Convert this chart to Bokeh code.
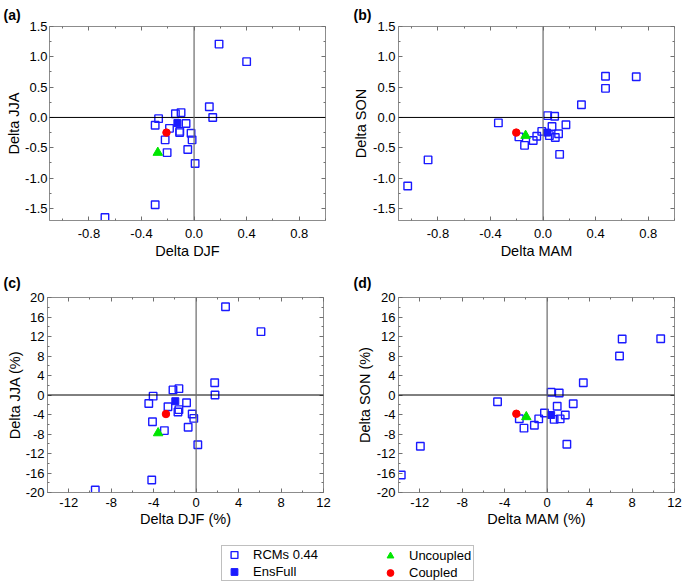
from bokeh.plotting import figure
from bokeh.models import (LinearAxis, FixedTicker, Span, Legend, LegendItem, Range1d,
                          NumeralTickFormatter, CustomJSTickFormatter, ColumnDataSource, Title)
from bokeh.layouts import column, row
from bokeh.embed import file_html
from bokeh.resources import INLINE

FONT = "Liberation Sans"

# ---------------- data ----------------
# panel (a): DJF vs JJA (absolute)
a_djf = [0.19, 0.40, 0.116, 0.142, -0.142, -0.099, -0.27, -0.296, -0.187, -0.109,
         -0.061, -0.023, -0.015, -0.22, -0.205, -0.048, 0.008, -0.296, -0.678, -0.11]
a_jja = [1.21, 0.92, 0.176, 0.0, 0.06, 0.08, -0.02, -0.13, -0.18, -0.23,
         -0.10, -0.26, -0.37, -0.37, -0.58, -0.53, -0.76, -1.44, -1.65, -0.25]
a_ens = [-0.127, -0.093]
a_unc = [-0.276, -0.58]
a_cpl = [-0.21, -0.25]

# panel (b): MAM vs SON (absolute)
b_mam = [-0.875, -1.03, -0.34, -0.184, -0.141, -0.075, -0.048, -0.01, 0.035, 0.088,
         0.068, 0.048, 0.093, 0.118, 0.174, 0.126, 0.292, 0.475, 0.475, 0.709]
b_son = [-0.70, -1.13, -0.09, -0.32, -0.46, -0.38, -0.31, -0.23, 0.03, 0.02,
         -0.15, -0.30, -0.33, -0.27, -0.12, -0.61, 0.21, 0.68, 0.48, 0.67]
b_ens = [0.03, -0.25]
b_unc = [-0.133, -0.30]
b_cpl = [-0.204, -0.25]

# panel (c): DJF vs JJA (%)
c_djf = [2.77, 6.11, 1.75, 1.78, -2.18, -1.62, -4.05, -4.46, -2.65, -1.62,
         -1.71, -0.9, -0.37, -0.22, -4.11, -2.99, -0.75, 0.16, -4.18, -9.5]
c_jja = [18.1, 13.0, 2.5, 0.0, 1.05, 1.3, -0.24, -1.75, -2.4, -3.0,
         -3.5, -1.6, -3.9, -4.8, -5.5, -7.3, -6.6, -10.2, -17.45, -19.5]
c_ens = [-1.96, -1.27]
c_unc = [-3.58, -7.8]
c_cpl = [-2.84, -3.9]

# panel (d): MAM vs SON (%)
d_mam = [-13.74, -11.94, -4.67, -2.62, -2.18, -1.2, -0.79, -0.25, 0.38, 1.14,
         0.95, 0.66, 1.23, 1.71, 2.46, 1.86, 3.41, 6.82, 7.07, 10.7]
d_son = [-16.4, -10.5, -1.37, -4.87, -6.8, -6.2, -4.9, -3.7, 0.55, 0.4,
         -2.3, -5.0, -4.9, -4.1, -1.8, -10.1, 2.5, 8.0, 11.5, 11.55]
d_ens = [0.38, -4.1]
d_unc = [-1.96, -4.5]
d_cpl = [-2.9, -3.85]

abs_xticks = [-0.8, -0.4, 0.0, 0.4, 0.8]
abs_xminor = [-1.0, -0.6, -0.2, 0.2, 0.6, 1.0]
abs_yticks = [-1.5, -1.0, -0.5, 0.0, 0.5, 1.0, 1.5]
abs_yminor = [-1.25, -0.75, -0.25, 0.25, 0.75, 1.25]
pct_xticks = [-12, -8, -4, 0, 4, 8, 12]
pct_xminor = [-14, -10, -6, -2, 2, 6, 10]
pct_yticks = [-20, -16, -12, -8, -4, 0, 4, 8, 12, 16, 20]
pct_yminor = [-18, -14, -10, -6, -2, 2, 6, 10, 14, 18]

legend_labels = ["RCMs 0.44", "EnsFull", "Uncoupled", "Coupled"]

BLUE = "#1a1aff"
RED = "#ff0000"
GREEN = "#00e600"
FRAME = "#8c8c8c"
TICK = "#707070"


def style_axis(ax, fmt, label):
    ax.formatter = NumeralTickFormatter(format=fmt)
    ax.axis_label = label
    ax.axis_line_color = FRAME
    ax.major_tick_in = 4
    ax.major_tick_out = 0
    ax.minor_tick_in = 2
    ax.minor_tick_out = 0
    ax.major_tick_line_color = TICK
    ax.minor_tick_line_color = TICK
    ax.major_label_text_font = FONT
    ax.major_label_text_font_size = "13px"
    ax.major_label_text_color = "black"
    ax.axis_label_text_font = FONT
    ax.axis_label_text_font_size = "14.5px"
    ax.axis_label_text_font_style = "normal"
    ax.axis_label_text_color = "black"


def mirror_axis(ticker):
    ax = LinearAxis(ticker=ticker)
    ax.formatter = CustomJSTickFormatter(code="return '';")
    ax.major_label_text_font_size = "1px"
    ax.major_label_standoff = 0
    ax.axis_line_color = None
    ax.major_tick_in = 4
    ax.major_tick_out = 0
    ax.minor_tick_in = 2
    ax.minor_tick_out = 0
    ax.major_tick_line_color = TICK
    ax.minor_tick_line_color = TICK
    return ax


def make_panel(tag, xr, yr, xt, xm, yt, ym, fmt, xlabel, ylabel,
               rx, ry, ens, unc, cpl, width, height, bl, br, bt, bb, toff, tstd,
               x_std, x_lstd, y_std, y_lstd):
    p = figure(width=width, height=height, x_range=Range1d(*xr), y_range=Range1d(*yr),
               output_backend="svg", toolbar_location=None, title=None,
               min_border_left=bl, min_border_right=br, min_border_top=bt,
               min_border_bottom=bb)
    p.grid.visible = False
    p.outline_line_color = FRAME
    p.background_fill_color = "white"
    p.border_fill_color = "white"
    p.xaxis[0].ticker = FixedTicker(ticks=xt, minor_ticks=xm)
    p.yaxis[0].ticker = FixedTicker(ticks=yt, minor_ticks=ym)
    style_axis(p.xaxis[0], fmt, xlabel)
    style_axis(p.yaxis[0], fmt, ylabel)
    p.xaxis[0].major_label_standoff = x_std
    p.xaxis[0].axis_label_standoff = x_lstd
    p.yaxis[0].major_label_standoff = y_std
    p.yaxis[0].axis_label_standoff = y_lstd
    p.add_layout(mirror_axis(FixedTicker(ticks=xt, minor_ticks=xm)), "above")
    p.add_layout(mirror_axis(FixedTicker(ticks=yt, minor_ticks=ym)), "right")
    t = Title(text=tag, align="left", offset=toff, text_font=FONT, text_font_size="14px",
              text_font_style="bold", standoff=tstd, text_color="black")
    p.add_layout(t, "above")

    p.add_layout(Span(location=0, dimension="width", line_color="black", line_width=1))
    p.add_layout(Span(location=0, dimension="height", line_color="#6a6a6a", line_width=1.2))

    p.scatter(rx, ry, marker="square", size=7.5, fill_color=None, line_color=BLUE, line_width=1.4)
    p.scatter([ens[0]], [ens[1]], marker="square", size=7, fill_color=BLUE, line_color=BLUE)
    p.scatter([unc[0]], [unc[1]], marker="triangle", size=9.5, fill_color=GREEN, line_color=GREEN)
    p.scatter([cpl[0]], [cpl[1]], marker="circle", size=7.5, fill_color=RED, line_color=RED)
    return p


pa = make_panel("(a)", (-1.1, 1.0), (-1.7, 1.5), abs_xticks, abs_xminor, abs_yticks, abs_yminor,
                "0.0", "Delta DJF", "Delta JJA", a_djf, a_jja, a_ens, a_unc, a_cpl,
                342, 266, 49, 17, 26, 46, -46, 8, 8, 2, 2, 0)
pb = make_panel("(b)", (-1.1, 1.0), (-1.7, 1.5), abs_xticks, abs_xminor, abs_yticks, abs_yminor,
                "0.0", "Delta MAM", "Delta SON", b_mam, b_son, b_ens, b_unc, b_cpl,
                343, 266, 56, 11, 26, 46, -45, 8, 8, 2, 3, 1)
pc = make_panel("(c)", (-14, 12), (-20, 20), pct_xticks, pct_xminor, pct_yticks, pct_yminor,
                "0", "Delta DJF (%)", "Delta JJA (%)", c_djf, c_jja, c_ens, c_unc, c_cpl,
                342, 274, 47, 19, 31, 48, -44, 13, 5, 1, 3, 0)
pd_ = make_panel("(d)", (-14, 12), (-20, 20), pct_xticks, pct_xminor, pct_yticks, pct_yminor,
                 "0", "Delta MAM (%)", "Delta SON (%)", d_mam, d_son, d_ens, d_unc, d_cpl,
                 343, 274, 56, 11, 31, 48, -45, 13, 5, 1, 3, 1)

# ---------------- legend strip ----------------
pl = figure(width=685, height=46, x_range=Range1d(0, 1), y_range=Range1d(0, 1),
            output_backend="svg", toolbar_location=None, x_axis_type=None, y_axis_type=None,
            min_border=0)
pl.outline_line_color = None
offscreen = dict(x=[-10.0], y=[-10.0])
r_rcm = pl.scatter("x", "y", source=ColumnDataSource(offscreen), marker="square", size=7,
                   fill_color=None, line_color=BLUE, line_width=1.4)
r_ens = pl.scatter("x", "y", source=ColumnDataSource(offscreen), marker="square", size=7,
                   fill_color=BLUE, line_color=BLUE)
r_unc = pl.scatter("x", "y", source=ColumnDataSource(offscreen), marker="triangle", size=9,
                   fill_color=GREEN, line_color=GREEN)
r_cpl = pl.scatter("x", "y", source=ColumnDataSource(offscreen), marker="circle", size=7,
                   fill_color=RED, line_color=RED)

common = dict(margin=0, padding=0, spacing=-6, glyph_width=24, glyph_height=17,
              label_standoff=7, label_height=15, label_text_font=FONT,
              label_text_font_size="13px", label_text_color="black",
              label_text_line_height=1.0)
leg1 = Legend(items=[LegendItem(label=legend_labels[0], renderers=[r_rcm]),
                     LegendItem(label=legend_labels[1], renderers=[r_ens])],
              location=(221, 5), label_width=220,
              border_line_color="#808080", border_line_width=1,
              background_fill_color="white", background_fill_alpha=1, **common)
leg2 = Legend(items=[LegendItem(label=legend_labels[2], renderers=[r_unc]),
                     LegendItem(label=legend_labels[3], renderers=[r_cpl])],
              location=(378, 5), label_width=60,
              border_line_color=None, background_fill_alpha=0, **common)
pl.add_layout(leg1, "center")
pl.add_layout(leg2, "center")

layout = column(row(pa, pb), row(pc, pd_), pl)
open("out.html", "w").write(file_html(layout, INLINE))
